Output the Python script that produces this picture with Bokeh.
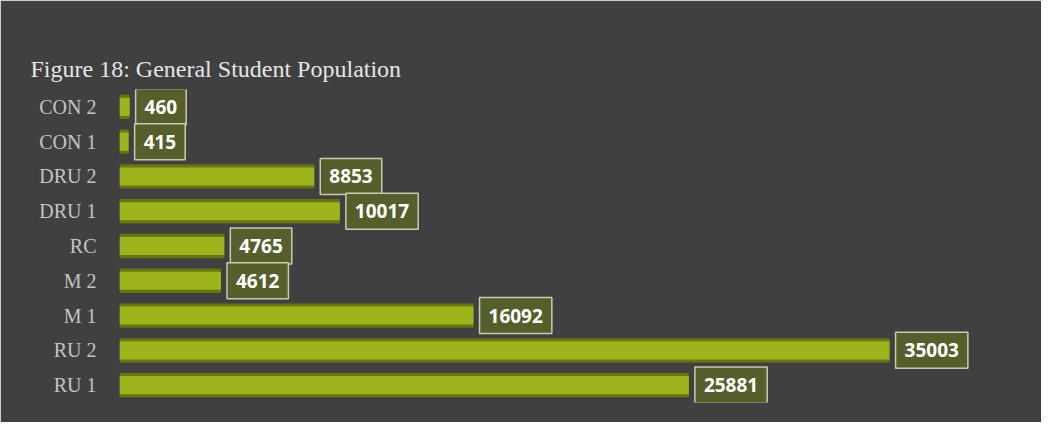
from bokeh.plotting import figure
from bokeh.models import Range1d, FactorRange, ColumnDataSource, Label, Title
from bokeh.embed import file_html
from bokeh.resources import INLINE

categories = ["CON 2", "CON 1", "DRU 2", "DRU 1", "RC", "M 2", "M 1", "RU 2", "RU 1"]
values = [460, 415, 8853, 10017, 4765, 4612, 16092, 35003, 25881]
title_text = "Figure 18: General Student Population"

BG = "#404040"
factors = list(reversed(categories))
src = ColumnDataSource(dict(cat=categories, val=values))

W, H = 1041, 422
ML, MR, MB = 119, 9, 20
p = figure(width=W, height=H, output_backend="svg", toolbar_location=None,
           y_range=FactorRange(factors=factors, range_padding=0),
           x_range=Range1d(0, 41500),
           min_border_left=ML, min_border_right=MR, min_border_top=0, min_border_bottom=MB)
p.background_fill_color = BG
p.border_fill_color = BG
p.outline_line_color = BG
p.outline_line_width = 3
p.grid.visible = False

# blank spacer title next to the frame (same colour as background), real title above it
p.title.text = " "
p.title.text_font_size = "2px"
p.title.text_color = BG
p.title.standoff = 41

main_title = Title(text=title_text, text_font="Liberation Serif", text_font_style="normal",
                   text_font_size="24px", text_color="#e6e6e6", offset=30 - ML, standoff=16)
p.add_layout(main_title, "above")

p.xaxis.visible = False
ya = p.yaxis[0]
ya.axis_line_color = None
ya.major_tick_line_color = None
ya.minor_tick_line_color = None
ya.major_label_text_font = "Liberation Serif"
ya.major_label_text_font_size = "20px"
ya.major_label_text_color = "#c4c4c4"
ya.major_label_standoff = 17

# bar shadow/rim and body
p.hbar(y="cat", right="val", left=0, height=0.7, source=src,
       fill_color="#6a7512", line_color=None)
p.hbar(y="cat", right="val", left=0, height=0.52, source=src,
       fill_color="#9fb31d", line_color=None)

for c, v in zip(categories, values):
    yc = factors.index(c) + 0.5  # numeric centre of the factor on the FactorRange
    p.add_layout(Label(x=v, y=yc, text=str(v), x_offset=6, text_align="left",
                       text_baseline="middle", text_font="Open Sans",
                       text_font_style="bold", text_font_size="19px",
                       text_color="#ffffff", background_fill_color="#565f2b",
                       border_line_color="#c9ccb0", border_line_width=1.5,
                       padding=(9, 11)))

open("out.html", "w").write(file_html(p, INLINE))
